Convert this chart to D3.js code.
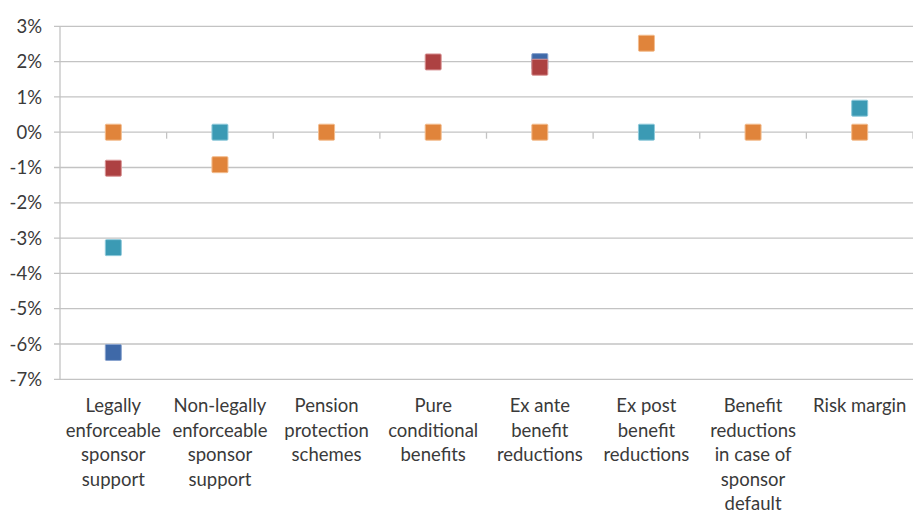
<!DOCTYPE html>
<html><head><meta charset="utf-8">
<script src="https://cdn.jsdelivr.net/npm/d3@7"></script>
<style>body{margin:0;background:#fff}svg{display:block}text{font-family:Lato,"Open Sans",sans-serif;fill:#3a3a3a}</style>
</head><body><svg id="c" width="913" height="514"></svg>
<script>
const categories = [
  ["Legally","enforceable","sponsor","support"],
  ["Non-legally","enforceable","sponsor","support"],
  ["Pension","protection","schemes"],
  ["Pure","conditional","benefits"],
  ["Ex ante","benefit","reductions"],
  ["Ex post","benefit","reductions"],
  ["Benefit","reductions","in case of","sponsor","default"],
  ["Risk margin"]
];
const seriesBlue   = [-0.0624, null, null, null, 0.020, null, null, null];
const seriesRed    = [-0.0102, null, null, 0.0199, 0.0184, null, null, null];
const seriesTeal   = [-0.0327, 0, null, null, null, 0, null, 0.0068];
const seriesOrange = [0, -0.0092, 0, 0, 0, 0.0252, 0, 0];
const yTicks = [0.03,0.02,0.01,0,-0.01,-0.02,-0.03,-0.04,-0.05,-0.06,-0.07];

const series = [
  {values: seriesBlue, color: "#3f69a8", edge: "#8aa4cf"},
  {values: seriesRed, color: "#ad4142", edge: "#d99596"},
  {values: seriesTeal, color: "#3b9ab4", edge: "#8fcadb"},
  {values: seriesOrange, color: "#e0843b", edge: "#f3bd8f"}
];

const svg = d3.select("#c");
const pLeft = 60, pRight = 913, pTop = 26.3, pBottom = 379.3;
const y = d3.scaleLinear().domain([0.03,-0.07]).range([pTop,pBottom]);
const x = d3.scaleBand().domain(d3.range(categories.length)).range([pLeft,pRight]).padding(0);

svg.append("g").selectAll("line").data(yTicks).join("line")
  .attr("x1", pLeft-6).attr("x2", pRight).attr("y1", d=>y(d)).attr("y2", d=>y(d))
  .attr("stroke", "#c3c3c3").attr("stroke-width", 1.3);
svg.append("line").attr("x1",pLeft).attr("x2",pLeft).attr("y1",pTop).attr("y2",pBottom)
  .attr("stroke","#c3c3c3").attr("stroke-width",1.3);
svg.append("g").selectAll("text").data(yTicks).join("text")
  .attr("x", 42).attr("y", d=>y(d)).attr("dy","0.36em").attr("text-anchor","end")
  .style("font-size","18.5px").text(d=>d3.format(".0%")(d).replace("\u2212","-"));
svg.append("g").selectAll("line").data(d3.range(1,categories.length+1)).join("line")
  .attr("x1", i=>pLeft + i*x.bandwidth()).attr("x2", i=>pLeft + i*x.bandwidth())
  .attr("y1", y(0)).attr("y2", y(0)+6.5).attr("stroke","#c3c3c3").attr("stroke-width",1.3);
const lab = svg.append("g").selectAll("text").data(categories).join("text")
  .attr("text-anchor","middle").style("font-size","18.5px");
lab.each(function(lines,i){
  d3.select(this).selectAll("tspan").data(lines).join("tspan")
    .attr("x", x(i)+x.bandwidth()/2).attr("y",(d,j)=>412+j*24.6).text(d=>d);
});
const s = 16;
series.forEach(se=>{
  svg.append("g").selectAll("rect")
    .data(se.values.map((v,i)=>({v,i})).filter(d=>d.v!==null)).join("rect")
    .attr("x", d=>x(d.i)+x.bandwidth()/2 - s/2).attr("y", d=>y(d.v)-s/2)
    .attr("width", s).attr("height", s).attr("rx",1)
    .attr("fill", se.color).attr("stroke", se.edge).attr("stroke-width",1);
});
</script></body></html>
